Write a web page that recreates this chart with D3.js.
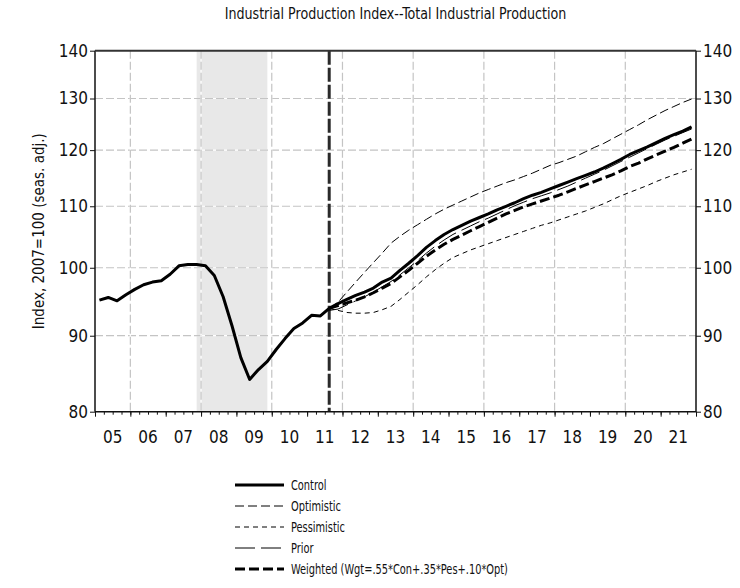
<!DOCTYPE html>
<html><head><meta charset="utf-8">
<script src="https://cdn.jsdelivr.net/npm/d3@7"></script>
<style>
html,body{margin:0;padding:0;background:#fff;}
text{font-family:'Liberation Sans Narrow','Arial Narrow','DejaVu Sans Condensed',sans-serif;}
</style></head>
<body><svg id="c" width="740" height="588"></svg>
<script>
// ---- data ----
const title = "Industrial Production Index--Total Industrial Production";
const yLabel = "Index, 2007=100 (seas. adj.)";
const firstYear = 2005;          // first quarter = 2005Q1
const lastYear = 2021;
const yearLabels = ["05","06","07","08","09","10","11","12","13","14","15","16","17","18","19","20","21"];
const yTicks = [80, 90, 100, 110, 120, 130, 140];
const gridYears = [2006, 2008, 2010, 2012, 2014, 2016, 2018, 2020];
const recession = ["2007Q4", "2009Q4"];
const forecastStart = "2011Q3";

// Control: history 2005Q1..2011Q3 and forecast to 2021Q4
const control = [
  95.1, 95.5, 95.0, 95.9,
  96.7, 97.4, 97.8, 98.0,
  99.0, 100.3, 100.5, 100.5,
  100.3, 98.8, 95.6, 91.4,
  87.0, 84.1, 85.4, 86.5,
  88.1, 89.6, 91.0, 91.8,
  92.9, 92.8, 93.9, 94.6,
  95.2, 95.8, 96.3, 96.9,
  97.8, 98.4, 99.6, 100.7,
  101.9, 103.2, 104.3, 105.3,
  106.1, 106.8, 107.5, 108.1,
  108.7, 109.4, 110.0, 110.6,
  111.3, 111.9, 112.4, 113.0,
  113.6, 114.2, 114.8, 115.4,
  116.0, 116.7, 117.5, 118.3,
  119.2, 119.9, 120.6, 121.4,
  122.2, 122.9, 123.6, 124.4
];
// scenario series start at 2011Q3
const optimistic = [
  93.9, 94.8, 96.3, 97.8, 99.3, 100.8, 102.3, 103.9, 105.0, 106.0,
  106.9, 107.8, 108.7, 109.5, 110.2, 110.9, 111.6, 112.3, 112.9, 113.5,
  114.1, 114.6, 115.2, 115.8, 116.5, 117.2, 117.7, 118.3, 118.9, 119.7,
  120.5, 121.2, 122.1, 123.0, 123.9, 124.8, 125.8, 126.7, 127.6, 128.4,
  129.2, 129.9
];
const pessimistic = [
  93.9, 93.6, 93.3, 93.2, 93.2, 93.3, 93.7, 94.2, 95.2, 96.3,
  97.4, 98.6, 99.7, 100.7, 101.6, 102.2, 102.8, 103.3, 103.8, 104.3,
  104.8, 105.3, 105.8, 106.3, 106.8, 107.2, 107.7, 108.2, 108.7, 109.2,
  109.8, 110.4, 111.1, 111.8, 112.4, 113.0, 113.6, 114.3, 114.9, 115.5,
  116.0, 116.5
];
const prior = [
  93.6, 93.8, 94.4, 95.0, 95.6, 96.3, 97.1, 97.9, 98.9, 100.0,
  101.1, 102.3, 103.4, 104.4, 105.3, 106.0, 106.7, 107.4, 108.0, 108.7,
  109.4, 110.1, 110.7, 111.3, 111.8, 112.3, 112.9, 113.5, 114.2, 114.9,
  115.6, 116.3, 117.1, 117.9, 118.7, 119.5, 120.3, 121.1, 121.9, 122.6,
  123.3, 124.0
];
const weighted = [
  93.9, 94.3, 94.7, 95.1, 95.6, 96.2, 96.9, 97.6, 98.6, 99.6,
  100.7, 101.8, 102.8, 103.7, 104.5, 105.2, 105.9, 106.6, 107.3, 108.0,
  108.7, 109.3, 109.9, 110.4, 110.9, 111.4, 111.9, 112.5, 113.1, 113.7,
  114.3, 114.9, 115.5, 116.2, 117.0, 117.6, 118.4, 119.1, 119.8, 120.5,
  121.3, 122.1
];
const legendNames = ["Control", "Optimistic", "Pessimistic", "Prior", "Weighted (Wgt=.55*Con+.35*Pes+.10*Opt)"];

// ---- helpers ----
function qToIndex(s){ const y=+s.slice(0,4), q=+s.slice(5); return (y-firstYear)*4 + (q-1); }
function qMid(i){ return firstYear + (i+0.5)/4; }
function narrow(sel, k){
  sel.each(function(){ const n=this; const len=n.getComputedTextLength();
    d3.select(n).attr("textLength", len*k).attr("lengthAdjust","spacingAndGlyphs"); });
}

const svg = d3.select("#c");
const L=95, R=696, T=50.7, B=411.7;
const x = d3.scaleLinear().domain([firstYear, lastYear+1]).range([L, R]);
const y = d3.scaleLog().domain([80, 140]).range([B, T]);

// title
svg.append("text").attr("x", (L+R)/2).attr("y", 19).attr("text-anchor","middle")
  .attr("font-size", 16).attr("fill","#111").text(title).call(narrow, 0.88);

// recession shading
const r0 = qMid(qToIndex(recession[0])), r1 = qMid(qToIndex(recession[1]));
svg.append("rect").attr("x", x(r0)).attr("y", T).attr("width", x(r1)-x(r0)).attr("height", B-T)
  .attr("fill","#e8e8e8");

// gridlines
const grid = svg.append("g");
yTicks.filter(v => v>80 && v<140).forEach(v => {
  grid.append("line").attr("x1",L).attr("x2",R).attr("y1",y(v)).attr("y2",y(v))
    .attr("stroke","#fff").attr("stroke-width",1.2);
  grid.append("line").attr("x1",L).attr("x2",R).attr("y1",y(v)).attr("y2",y(v))
    .attr("stroke","#c4c4c4").attr("stroke-width",1.2).attr("stroke-dasharray","8,3");
});
gridYears.forEach(v => {
  grid.append("line").attr("x1",x(v)).attr("x2",x(v)).attr("y1",T).attr("y2",B)
    .attr("stroke","#fff").attr("stroke-width",1.2);
  grid.append("line").attr("x1",x(v)).attr("x2",x(v)).attr("y1",T).attr("y2",B)
    .attr("stroke","#c4c4c4").attr("stroke-width",1.2).attr("stroke-dasharray","8,3");
});

// forecast divider
const fIdx = qToIndex(forecastStart);
svg.append("line").attr("x1", x(qMid(fIdx))).attr("x2", x(qMid(fIdx))).attr("y1", T).attr("y2", B)
  .attr("stroke","#2a2a2a").attr("stroke-width",3).attr("stroke-dasharray","14,3");

// axes
const yAxisL = d3.axisLeft(y).tickValues(yTicks).tickFormat(d3.format("d")).tickSize(5).tickPadding(2);
const yAxisR = d3.axisRight(y).tickValues(yTicks).tickFormat(d3.format("d")).tickSize(5).tickPadding(2);
const gl = svg.append("g").attr("transform",`translate(${L},0)`).call(yAxisL);
const gr = svg.append("g").attr("transform",`translate(${R},0)`).call(yAxisR);
[gl, gr].forEach(g => {
  g.select(".domain").remove();
  g.selectAll("text").attr("font-size", 17).attr("fill","#111").style("font-family", null);
  g.selectAll("line").attr("stroke","#111");
});
svg.append("line").attr("x1",L).attr("x2",L).attr("y1",T).attr("y2",B).attr("stroke","#111").attr("stroke-width",1.5);
svg.append("line").attr("x1",R).attr("x2",R).attr("y1",T).attr("y2",B).attr("stroke","#111").attr("stroke-width",1.5);
svg.append("line").attr("x1",L).attr("x2",R).attr("y1",T).attr("y2",T).attr("stroke","#333").attr("stroke-width",2);

// x axis: quarter ticks, year ticks, labels centered in year
const years = d3.range(firstYear, lastYear+1);
const quarterTicks = d3.range(0, (lastYear-firstYear+1)*4+1).map(i => firstYear + i/4);
const xAxisMinor = d3.axisBottom(x).tickValues(quarterTicks).tickSize(3).tickFormat("");
const xAxisMajor = d3.axisBottom(x).tickValues(years.concat([lastYear+1])).tickSize(5).tickFormat("");
const gx1 = svg.append("g").attr("transform",`translate(0,${B})`).call(xAxisMinor);
const gx2 = svg.append("g").attr("transform",`translate(0,${B})`).call(xAxisMajor);
[gx1,gx2].forEach(g => { g.select(".domain").remove(); g.selectAll("line").attr("stroke","#111"); });
svg.append("line").attr("x1",L).attr("x2",R).attr("y1",B).attr("y2",B).attr("stroke","#111").attr("stroke-width",1.5);
svg.append("g").selectAll("text").data(years).join("text")
  .attr("x", d => x(d+0.5)).attr("y", B+31).attr("text-anchor","middle")
  .attr("font-size",17).attr("fill","#111").text((d,i) => yearLabels[i]);

// y label
svg.append("text").attr("transform",`translate(44,${(T+B)/2}) rotate(-90)`).attr("text-anchor","middle")
  .attr("font-size",15).attr("fill","#111").text(yLabel);

// series
const line = d3.line().x(d => x(d.t)).y(d => y(d.v));
function toPts(arr, start){ return arr.map((v,i) => ({t: qMid(start+i), v})); }
const styles = [
  {name:"Control", data: toPts(control, 0), w:3, dash:null},
  {name:"Optimistic", data: toPts(optimistic, fIdx), w:1, dash:"9,4"},
  {name:"Pessimistic", data: toPts(pessimistic, fIdx), w:1, dash:"5,4"},
  {name:"Prior", data: toPts(prior, fIdx), w:1, dash:"20,6"},
  {name:"Weighted", data: toPts(weighted, fIdx), w:3, dash:"10,4"}
];
const drawOrder = [1,2,3,4,0];
drawOrder.forEach(k => {
  const s = styles[k];
  svg.append("path").datum(s.data).attr("d", line).attr("fill","none")
    .attr("stroke","#000").attr("stroke-width", s.w).attr("stroke-linejoin","round")
    .attr("stroke-dasharray", s.dash);
});

// legend
const lg = svg.append("g");
styles.forEach((s,i) => {
  const yy = 485 + i*21;
  lg.append("line").attr("x1",235).attr("x2",284).attr("y1",yy).attr("y2",yy)
    .attr("stroke","#000").attr("stroke-width", s.w).attr("stroke-dasharray", s.dash);
  lg.append("text").attr("x",291).attr("y",yy+5).attr("font-size",14).attr("fill","#111")
    .text(legendNames[i]).call(narrow, 0.78);
});
</script></body></html>
